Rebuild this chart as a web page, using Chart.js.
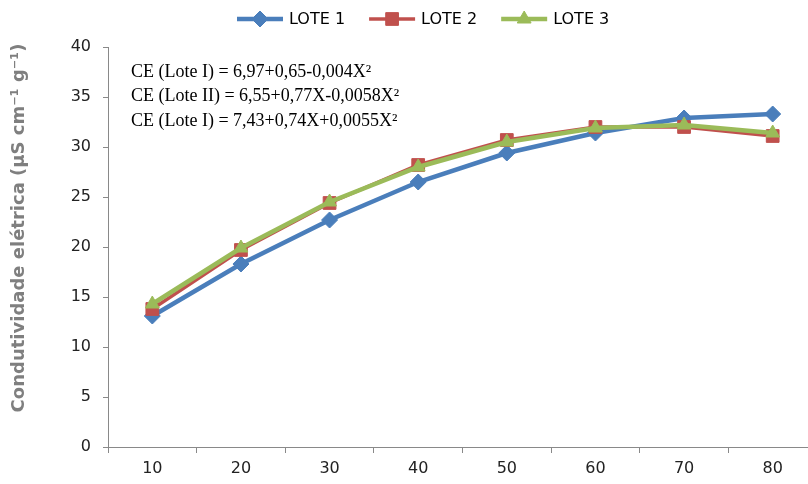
<!DOCTYPE html>
<html>
<head>
<meta charset="utf-8">
<script src="https://cdn.jsdelivr.net/npm/chart.js@4.4.1/dist/chart.umd.min.js"></script>
<style>
  html, body { margin: 0; padding: 0; background: #fff; overflow: hidden; }
  #grafico { display: block; }
</style>
</head>
<body>
<canvas id="grafico" width="830" height="484"></canvas>
<script>
// datos
const categorias = ['10', '20', '30', '40', '50', '60', '70', '80'];
const lote1 = [13.1, 18.3, 22.7, 26.5, 29.4, 31.4, 32.9, 33.3];
const lote2 = [13.8, 19.7, 24.4, 28.2, 30.7, 32.0, 32.0, 31.1];
const lote3 = [14.3, 19.9, 24.5, 28.0, 30.5, 31.9, 32.2, 31.4];
const nombresSeries = ['LOTE 1', 'LOTE 2', 'LOTE 3'];
const ticksY = [0, 5, 10, 15, 20, 25, 30, 35, 40];
const ecuaciones = [
    'CE (Lote I) = 6,97+0,65-0,004X²',
    'CE (Lote II) = 6,55+0,77X-0,0058X²',
    'CE (Lote I) = 7,43+0,74X+0,0055X²'
];
const tituloY = 'Condutividade elétrica (µS cm⁻¹ g⁻¹)';

const azul = '#4A7EBB';
const rojo = '#C0504D';
const verde = '#9BBB59';
const gris = '#898989';

// leyenda, ecuaciones y titulo del eje Y
const extrasPlugin = {
    id: 'extras',
    afterDraw(chart) {
        const ctx = chart.ctx;
        ctx.save();

        // leyenda
        ctx.font = '16px "DejaVu Sans"';
        ctx.textBaseline = 'middle';
        ctx.textAlign = 'left';
        let x = 237;
        const y = 19;
        chart.data.datasets.forEach(ds => {
            ctx.strokeStyle = ds.borderColor;
            ctx.lineWidth = ds.borderWidth;
            ctx.beginPath();
            ctx.moveTo(x, y);
            ctx.lineTo(x + 46, y);
            ctx.stroke();
            ctx.fillStyle = ds.backgroundColor;
            ctx.strokeStyle = ds.borderColor;
            ctx.lineWidth = 1;
            Chart.helpers.drawPoint(ctx, {
                pointStyle: ds.pointStyle,
                radius: ds.pointRadius,
                rotation: 0,
                borderWidth: 1
            }, x + 23, y);
            ctx.fillStyle = '#000';
            ctx.fillText(ds.label, x + 52, y + 1);
            x += 52 + ctx.measureText(ds.label).width + 24;
        });

        // ecuaciones
        ctx.font = '18px "Liberation Serif"';
        ctx.fillStyle = '#000';
        ecuaciones.forEach((t, i) => {
            ctx.fillText(t, 131, 72 + i * 24.5);
        });

        // titulo eje Y
        ctx.translate(19, 228);
        ctx.rotate(-Math.PI / 2);
        ctx.textAlign = 'center';
        ctx.font = 'bold 18px "DejaVu Sans"';
        ctx.fillStyle = '#7F7F7F';
        ctx.fillText(tituloY, 0, 0);
        ctx.restore();
    }
};

const ctx = document.getElementById('grafico');
new Chart(ctx, {
    type: 'line',
    data: {
        labels: categorias,
        datasets: [
            {
                label: nombresSeries[0],
                data: lote1,
                borderColor: azul,
                backgroundColor: azul,
                borderWidth: 4.5,
                pointStyle: 'rectRot',
                pointRadius: 8,
                pointBorderWidth: 1,
                order: 3
            },
            {
                label: nombresSeries[1],
                data: lote2,
                borderColor: rojo,
                backgroundColor: rojo,
                borderWidth: 3.5,
                pointStyle: 'rect',
                pointRadius: 9,
                pointBorderWidth: 1,
                order: 2
            },
            {
                label: nombresSeries[2],
                data: lote3,
                borderColor: verde,
                backgroundColor: verde,
                borderWidth: 4.5,
                pointStyle: 'triangle',
                pointRadius: 8,
                pointBorderWidth: 1,
                order: 1
            }
        ]
    },
    options: {
        responsive: false,
        animation: false,
        layout: { padding: { top: 47, right: 13, left: 0, bottom: 0 } },
        plugins: {
            legend: { display: false },
            tooltip: { enabled: false }
        },
        scales: {
            x: {
                type: 'category',
                offset: true,
                grid: {
                    offset: true,
                    drawOnChartArea: false,
                    drawTicks: true,
                    tickLength: 6,
                    color: gris
                },
                border: { color: gris, width: 1 },
                ticks: {
                    color: '#222',
                    font: { family: 'DejaVu Sans', size: 16 },
                    padding: 6,
                    maxRotation: 0
                },
                afterFit(scale) { scale.height = 37; }
            },
            y: {
                min: 0,
                max: 40,
                afterBuildTicks(scale) {
                    scale.ticks = ticksY.map(v => ({ value: v }));
                },
                grid: {
                    drawOnChartArea: false,
                    drawTicks: true,
                    tickLength: 5,
                    color: gris
                },
                border: { color: gris, width: 1 },
                ticks: {
                    color: '#222',
                    font: { family: 'DejaVu Sans', size: 16 },
                    padding: 12
                },
                afterFit(scale) { scale.width = 108; }
            }
        }
    },
    plugins: [extrasPlugin]
});
</script>
</body>
</html>
